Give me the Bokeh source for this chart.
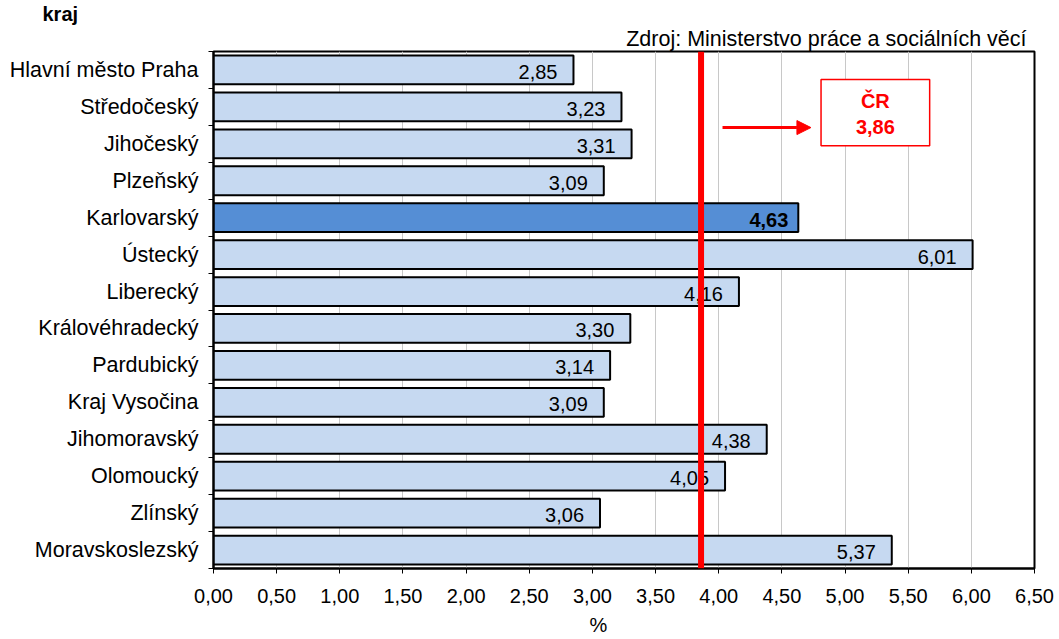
from bokeh.plotting import figure
from bokeh.models import (ColumnDataSource, Range1d, FixedTicker, Span, Label,
                          Arrow, NormalHead, BoxAnnotation, Title)
from bokeh.embed import file_html
from bokeh.resources import INLINE
from bokeh.core.properties import value

regions = ["Hlavní město Praha", "Středočeský", "Jihočeský", "Plzeňský", "Karlovarský",
           "Ústecký", "Liberecký", "Královéhradecký", "Pardubický", "Kraj Vysočina",
           "Jihomoravský", "Olomoucký", "Zlínský", "Moravskoslezský"]
values = [2.85, 3.23, 3.31, 3.09, 4.63, 6.01, 4.16, 3.30, 3.14, 3.09, 4.38, 4.05, 3.06, 5.37]
highlight = "Karlovarský"
cr_value = 3.86
x_ticks = [0.0, 0.5, 1.0, 1.5, 2.0, 2.5, 3.0, 3.5, 4.0, 4.5, 5.0, 5.5, 6.0, 6.5]

def cz(v):
    return f"{v:.2f}".replace(".", ",")

n = len(regions)
ypos = list(range(n))
colors = ["#558ED5" if r == highlight else "#C6D9F1" for r in regions]
labels = [cz(v) for v in values]
styles = ["bold" if r == highlight else "normal" for r in regions]
offsets = [-10 if r == highlight else -16 for r in regions]

src = ColumnDataSource(dict(y=ypos, v=values, color=colors, label=labels, style=styles,
                            xo=offsets))

FONT = "Liberation Sans"
FS = "20px"
FL = "21.5px"

p = figure(frame_width=821, frame_height=517, output_backend="svg", toolbar_location=None,
           x_range=Range1d(0, 6.5), y_range=Range1d(n - 0.5, -0.5),
           min_border_left=213, min_border_top=6, min_border_right=25, min_border_bottom=10)
p.background_fill_color = "white"
p.border_fill_color = "white"
p.outline_line_color = "black"
p.outline_line_width = 2

# titles above
p.title = Title(text="kraj", align="left", text_font=FONT, text_font_size=FS,
                text_font_style="bold", text_color="black", offset=-178, standoff=0,
                padding=(7, 0, 0, 0))
p.add_layout(Title(text="Zdroj: Ministerstvo práce a sociálních věcí", align="right",
                   text_font=FONT, text_font_size=FL, text_font_style="normal",
                   text_color="black", offset=8, standoff=1), "above")

p.hbar(y="y", right="v", left=0, height=0.78, source=src, fill_color="color",
       line_color="black", line_width=2)

p.text(x="v", y="y", text="label", source=src, x_offset="xo", y_offset=2, text_align="right",
       text_baseline="middle", text_font=value(FONT), text_font_size=FS,
       text_font_style="style", text_color="black")

# grid
p.ygrid.visible = False
p.xgrid.ticker = FixedTicker(ticks=x_ticks)
p.xgrid.grid_line_color = "#C8C8C8"
p.xgrid.grid_line_width = 1

# x axis
p.xaxis.ticker = FixedTicker(ticks=x_ticks)
p.xaxis.major_label_overrides = {t: cz(t) for t in x_ticks}
p.xaxis.major_label_text_font = FONT
p.xaxis.major_label_text_font_size = FS
p.xaxis.major_label_text_color = "black"
p.xaxis.major_tick_out = 5
p.xaxis.major_tick_in = 0
p.xaxis.minor_tick_line_color = None
p.xaxis.axis_line_color = "black"
p.xaxis.axis_line_width = 2
p.xaxis.major_label_standoff = 15

# x axis unit label
p.add_layout(Title(text="%", align="left", text_font=FONT, text_font_size=FS,
                   text_font_style="normal", text_color="black", offset=376, standoff=12), "below")

# y axis
p.yaxis.ticker = FixedTicker(ticks=ypos, minor_ticks=[i - 0.5 for i in range(n + 1)])
p.yaxis.major_label_overrides = {i: r for i, r in enumerate(regions)}
p.yaxis.major_label_text_font = FONT
p.yaxis.major_label_text_font_size = FL
p.yaxis.major_label_text_color = "black"
p.yaxis.major_tick_out = 0
p.yaxis.major_tick_in = 0
p.yaxis.minor_tick_out = 5
p.yaxis.minor_tick_in = 0
p.yaxis.minor_tick_line_color = "black"
p.yaxis.axis_line_color = "black"
p.yaxis.axis_line_width = 2
p.yaxis.major_label_standoff = 10

# CR line
p.add_layout(Span(location=cr_value, dimension="height", line_color="red", line_width=6))

# arrow and box
p.add_layout(Arrow(x_start=4.03, y_start=1.56, x_end=4.73, y_end=1.56, line_color="red",
                   line_width=3, end=NormalHead(size=14, fill_color="red", line_color="red")))
p.add_layout(BoxAnnotation(left=4.81, right=5.67, top=0.26, bottom=2.05, fill_color="white",
                           fill_alpha=1, line_color="red", line_alpha=1, line_width=1.5))
p.add_layout(Label(x=5.24, y=0.84, text="ČR", text_align="center", text_baseline="middle",
                   text_font=FONT, text_font_size=FS, text_font_style="bold", text_color="red"))
p.add_layout(Label(x=5.24, y=1.55, text=cz(cr_value), text_align="center", text_baseline="middle",
                   text_font=FONT, text_font_size=FS, text_font_style="bold", text_color="red"))

open("out.html", "w").write(file_html(p, INLINE))
